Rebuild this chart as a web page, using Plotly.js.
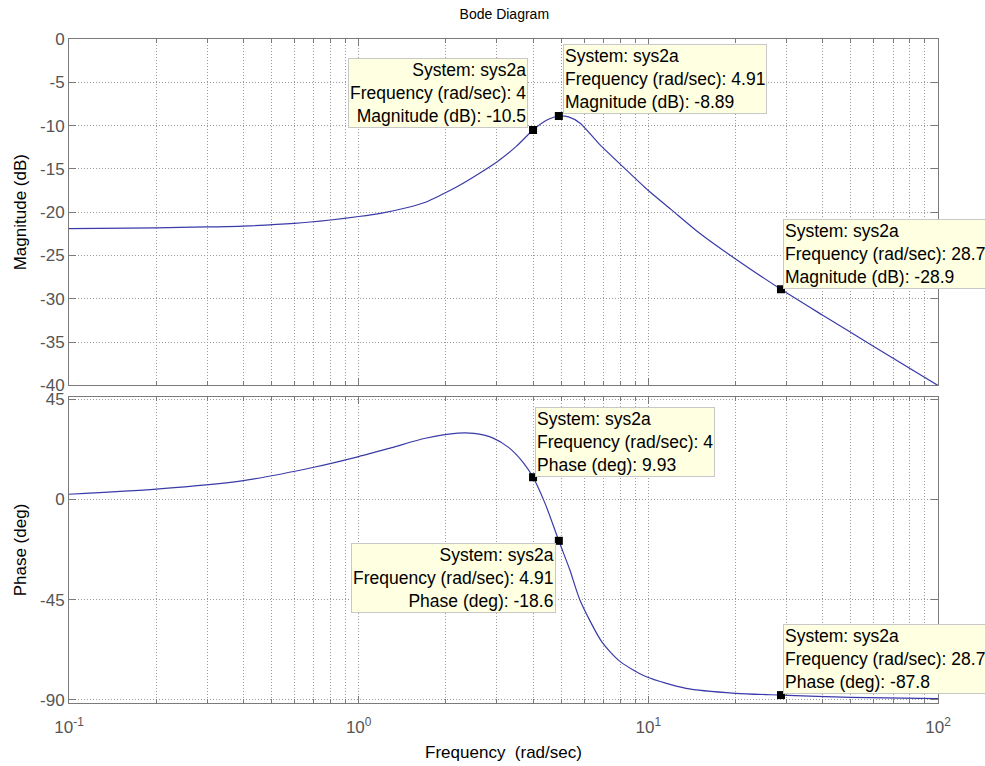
<!DOCTYPE html>
<html>
<head>
<meta charset="utf-8">
<script src="https://cdn.plot.ly/plotly-3.0.1.min.js"></script>
<style>
  html, body { margin: 0; padding: 0; background: #ffffff; }
  #bode { width: 985px; height: 766px; }
</style>
</head>
<body>
<div id="bode"></div>
<script>
// Frequency response of sys2a (rad/sec)
const freqMag = [0.1, 0.2, 0.3, 0.4, 0.6, 0.8, 1.0, 1.2, 1.5, 1.7, 1.9, 2.2, 2.5, 3.0, 3.5, 4.0, 4.5, 4.91, 5.3, 5.8, 6.8, 8.2, 10, 12, 15, 20, 28.7, 40, 60, 100];
const magDb   = [-21.9, -21.8, -21.7, -21.6, -21.3, -20.9, -20.5, -20.1, -19.4, -18.85, -18.1, -17.0, -15.9, -14.2, -12.4, -10.5, -9.3, -8.89, -9.0, -9.7, -12.2, -14.8, -17.5, -19.7, -22.4, -25.4, -28.9, -31.9, -35.5, -40.0];

const freqPhase = [0.1, 0.2, 0.4, 0.7, 1.0, 1.3, 1.7, 2.2, 2.5, 2.9, 3.3, 3.7, 4.0, 4.4, 4.91, 5.36, 5.8, 6.9, 8.0, 9.85, 13.5, 20, 28.7, 50, 100];
const phaseDeg  = [2.3, 4.6, 8.4, 14.4, 19.2, 23.2, 27.4, 29.7, 29.6, 27.6, 23.2, 16.5, 9.93, -1.8, -18.6, -31.7, -45.0, -63.8, -72.8, -79.6, -84.8, -87.0, -87.8, -88.8, -89.4];

// Data tips
const systemName = "sys2a";
const tipFreq  = [4, 4.91, 28.7];
const tipMag   = [-10.5, -8.89, -28.9];
const tipPhase = [9.93, -18.6, -87.8];

// Axis ticks
const freqTicks = [0.1, 1, 10, 100];
const freqTickText = ["10<sup>-1</sup>", "10<sup>0</sup>", "10<sup>1</sup>", "10<sup>2</sup>"];
const magTicks = [0, -5, -10, -15, -20, -25, -30, -35, -40];
const phaseTicks = [45, 0, -45, -90];

const FONT = "Arial, 'Liberation Sans', Helvetica, sans-serif";
const lineColor = "#3a3aa8";
const gridColor = "#9a9a9a";
const gridDash = "1px,2px";
const frameColor = "#7a7a7a";
const tickFontColor = "#555555";

const traces = [
  { x: freqMag, y: magDb, xaxis: "x", yaxis: "y", type: "scatter", mode: "lines",
    line: { color: lineColor, width: 1.2, shape: "spline", smoothing: 0.7 } },
  { x: freqPhase, y: phaseDeg, xaxis: "x2", yaxis: "y2", type: "scatter", mode: "lines",
    line: { color: lineColor, width: 1.2, shape: "spline", smoothing: 0.7 } },
  { x: tipFreq, y: tipMag, xaxis: "x", yaxis: "y", type: "scatter", mode: "markers",
    marker: { symbol: "square", size: 8, color: "#000000" } },
  { x: tipFreq, y: tipPhase, xaxis: "x2", yaxis: "y2", type: "scatter", mode: "markers",
    marker: { symbol: "square", size: 8, color: "#000000" } }
];

function xAxis(extra) {
  return Object.assign({
    type: "log",
    range: [-1, 2],
    tickvals: freqTicks,
    ticktext: freqTickText,
    ticks: "inside",
    ticklen: 7,
    tickcolor: frameColor,
    showline: true,
    linecolor: frameColor,
    linewidth: 1,
    mirror: "allticks",
    showgrid: true,
    gridcolor: gridColor,
    griddash: gridDash,
    gridwidth: 1,
    zeroline: false,
    minor: { dtick: "D1", showgrid: true, gridcolor: gridColor, griddash: gridDash, gridwidth: 1,
             ticks: "inside", ticklen: 4, tickcolor: frameColor },
    tickfont: { family: FONT, size: 17, color: tickFontColor }
  }, extra);
}

function yAxis(ticks, range, extra) {
  return Object.assign({
    range: range,
    tickvals: ticks,
    ticktext: ticks.map(v => String(v)),
    ticks: "inside",
    ticklen: 7,
    tickcolor: frameColor,
    showline: true,
    linecolor: frameColor,
    linewidth: 1,
    mirror: "allticks",
    showgrid: true,
    gridcolor: gridColor,
    griddash: gridDash,
    gridwidth: 1,
    zeroline: false,
    tickfont: { family: FONT, size: 17, color: tickFontColor }
  }, extra);
}

function tipText(i, label, values) {
  return "System: " + systemName + "<br>Frequency (rad/sec): " + String(tipFreq[i]) +
         "<br>" + label + ": " + String(values[i]);
}

const tipStyle = {
  showarrow: false,
  bgcolor: "#ffffe1",
  bordercolor: "#c8c8c8",
  borderwidth: 1,
  borderpad: 1,
  font: { family: FONT, size: 17.5, color: "#000000" }
};

// placement of each tip box relative to its marker
const magTipPlace = [
  { xanchor: "right", yanchor: "bottom", align: "right", xshift: -5, yshift: 2 },
  { xanchor: "left",  yanchor: "bottom", align: "left",  xshift: 4,  yshift: 2 },
  { xanchor: "left",  yanchor: "bottom", align: "left",  xshift: 2,  yshift: 0 }
];
const phaseTipPlace = [
  { xanchor: "left",  yanchor: "bottom", align: "left",  xshift: 2,  yshift: 0 },
  { xanchor: "right", yanchor: "top",    align: "right", xshift: -3, yshift: -2 },
  { xanchor: "left",  yanchor: "bottom", align: "left",  xshift: 2,  yshift: 1 }
];

const annotations = [];
tipFreq.forEach((f, i) => {
  annotations.push(Object.assign({}, tipStyle, magTipPlace[i], {
    xref: "x", yref: "y", x: Math.log10(f), y: tipMag[i],
    text: tipText(i, "Magnitude (dB)", tipMag)
  }));
  annotations.push(Object.assign({}, tipStyle, phaseTipPlace[i], {
    xref: "x2", yref: "y2", x: Math.log10(f), y: tipPhase[i],
    text: tipText(i, "Phase (deg)", tipPhase)
  }));
});

const axisTitleFont = { family: FONT, size: 17, color: "#000000" };

const layout = {
  width: 985,
  height: 766,
  paper_bgcolor: "#ffffff",
  plot_bgcolor: "#ffffff",
  showlegend: false,
  margin: { l: 69, r: 46.5, t: 39, b: 62.5 },
  font: { family: FONT, color: "#000000" },
  title: {
    text: "Bode Diagram",
    font: { family: FONT, size: 14, color: "#000000" },
    x: 0.512, xanchor: "center",
    y: 1 - 14 / 766, yanchor: "middle", yref: "container"
  },
  xaxis: xAxis({ anchor: "y", domain: [0, 1], showticklabels: false }),
  xaxis2: xAxis({ anchor: "y2", domain: [0, 1], matches: "x", ticklabelstandoff: 9,
    title: { text: "Frequency  (rad/sec)", font: axisTitleFont, standoff: 9 } }),
  yaxis: yAxis(magTicks, [-40, 0], { domain: [0.4783, 1], anchor: "x",
    title: { text: "Magnitude (dB)", font: axisTitleFont, standoff: 9 } }),
  yaxis2: yAxis(phaseTicks, [-91.35, 45.9], { domain: [0, 0.4608], anchor: "x2",
    title: { text: "Phase (deg)", font: axisTitleFont, standoff: 9 } }),
  annotations: annotations
};

Plotly.newPlot("bode", traces, layout, { staticPlot: true, displayModeBar: false });
</script>
</body>
</html>
